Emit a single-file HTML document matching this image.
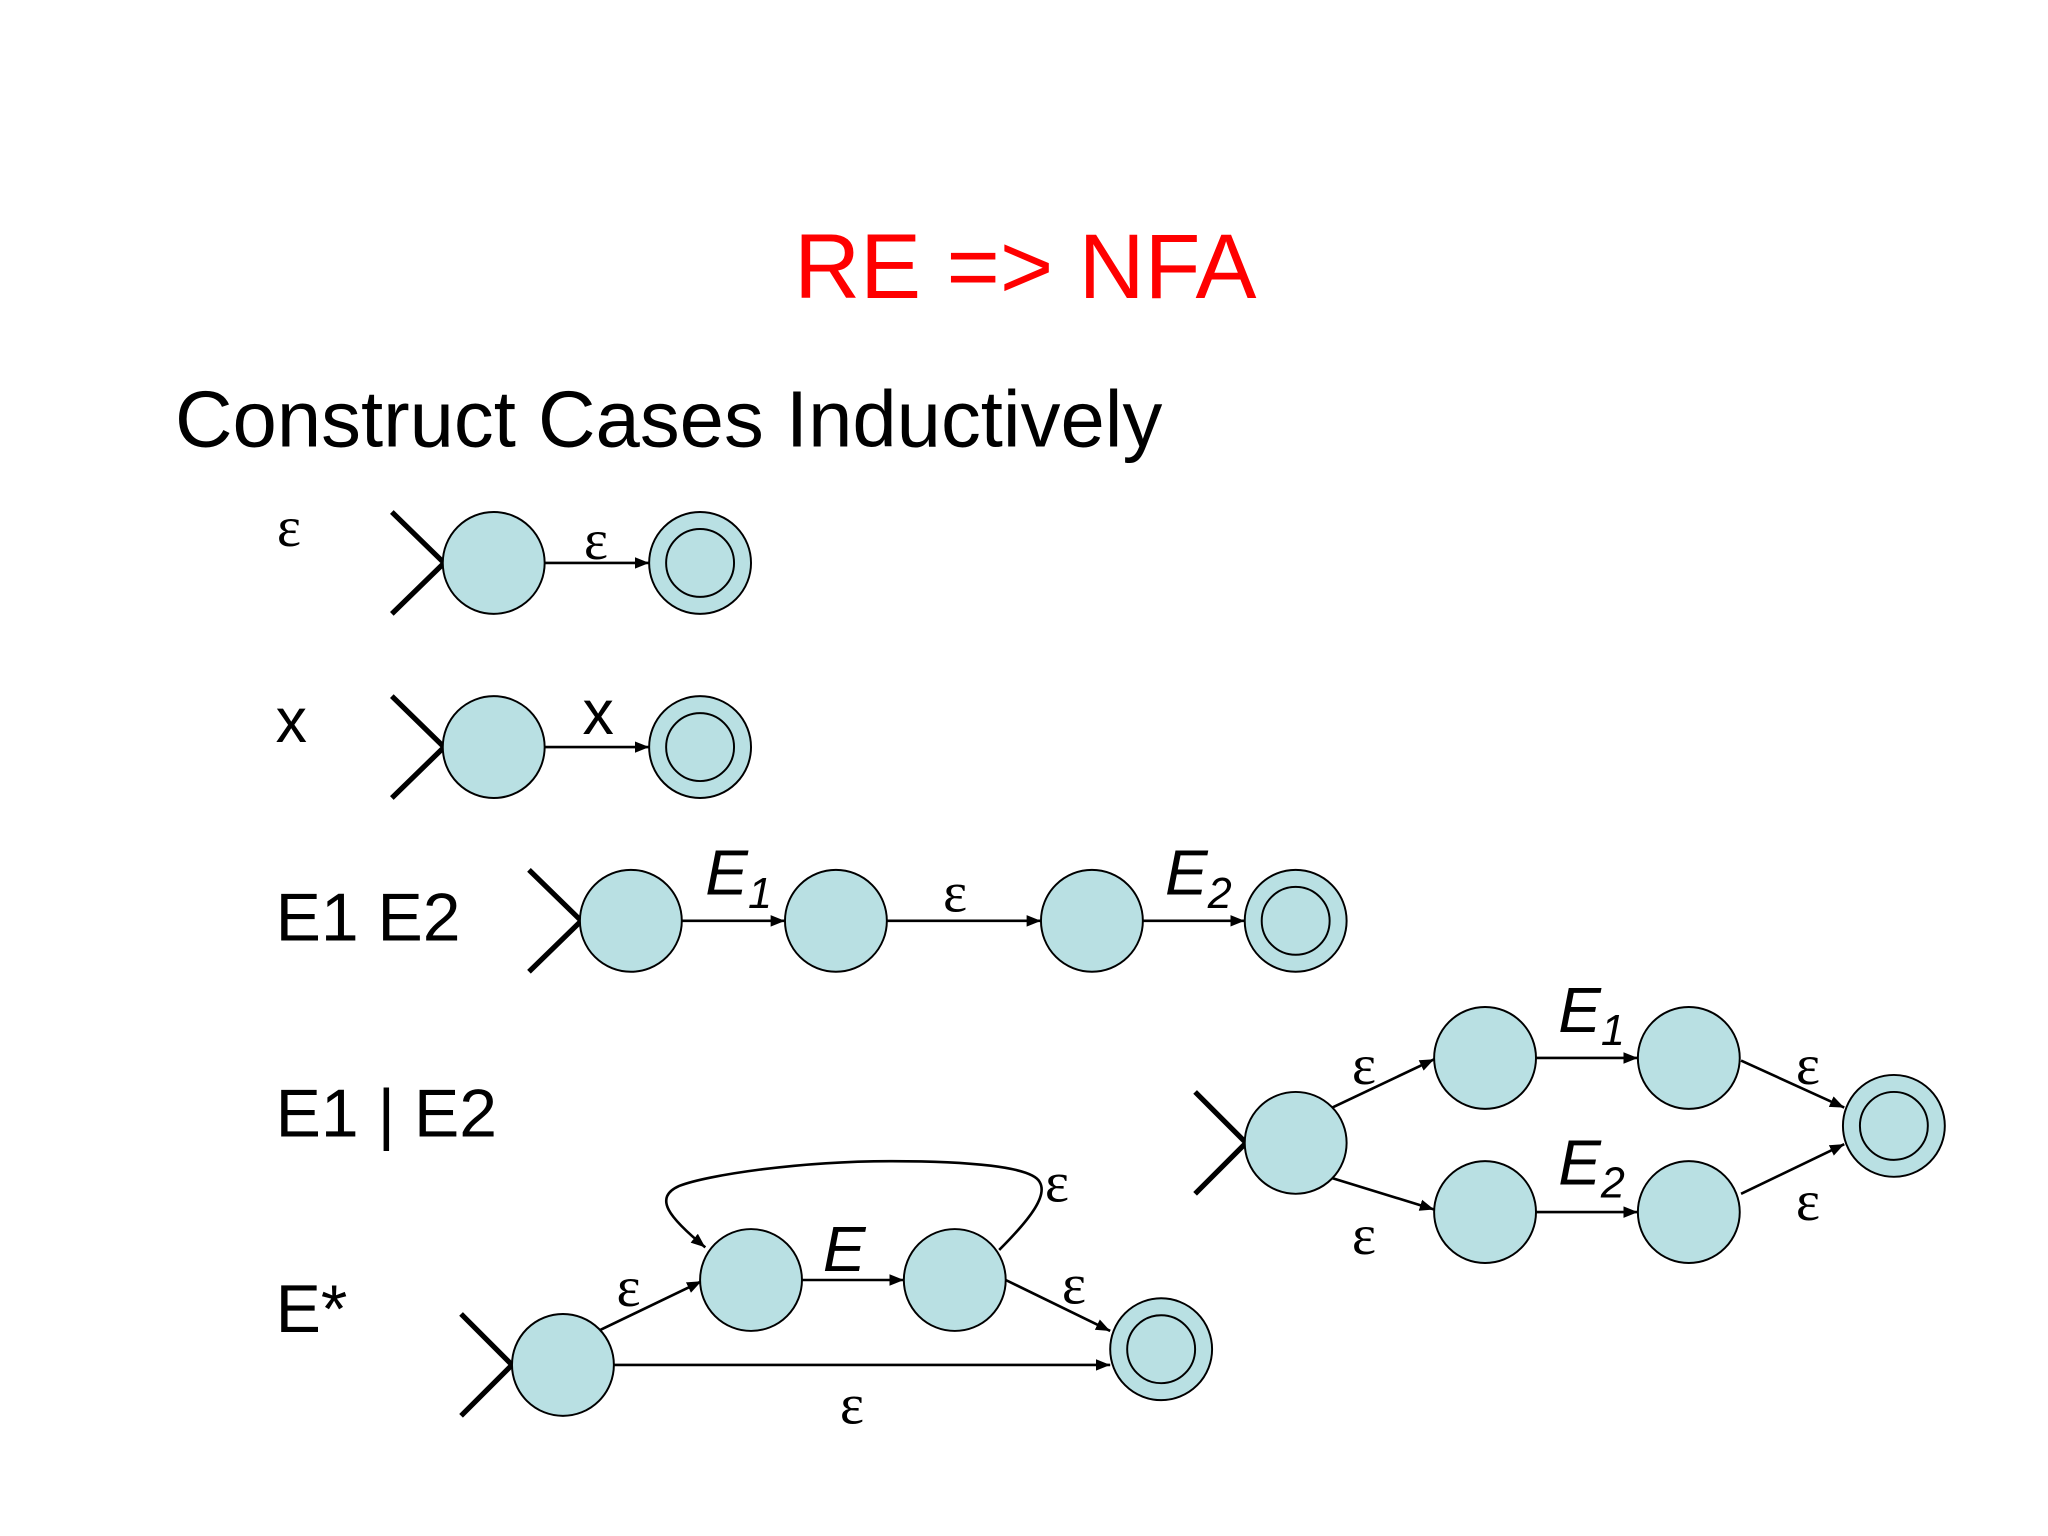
<!DOCTYPE html>
<html><head><meta charset="utf-8"><style>
html,body{margin:0;padding:0;background:#fff;}
svg{display:block;}
text{font-family:"Liberation Sans",sans-serif;}
.s{font-family:"Liberation Serif",serif;}
</style></head><body>
<svg width="2048" height="1536" viewBox="0 0 1568 1176" xmlns="http://www.w3.org/2000/svg">
<defs>
<marker id="a" viewBox="0 0 10 10" refX="10" refY="5" markerWidth="11" markerHeight="11" markerUnits="userSpaceOnUse" orient="auto"><path d="M0,1 L10,5 L0,9 z" fill="#000"/></marker>
</defs>
<rect width="1568" height="1176" fill="#fff"/>
<text x="785" y="228" font-size="70" fill="#ff0000" text-anchor="middle">RE =&gt; NFA</text>
<text x="134" y="342" font-size="61" fill="#000">Construct Cases Inductively</text>
<text x="212" y="418" font-size="44" class="s">ε</text>
<text x="211" y="568" font-size="48">x</text>
<text x="211" y="720" font-size="52">E1 E2</text>
<text x="211" y="870" font-size="52">E1 | E2</text>
<text x="211" y="1020" font-size="52">E*</text>
<g stroke="#000" stroke-width="2" fill="none">
<path d="M300,392 L340,431 L300,470" stroke-width="4"/>
<line x1="417" y1="431" x2="497" y2="431" marker-end="url(#a)"/>
<path d="M300,533 L340,572 L300,611" stroke-width="4"/>
<line x1="417" y1="572" x2="497" y2="572" marker-end="url(#a)"/>
<path d="M405,666 L445,705 L405,744" stroke-width="4"/>
<line x1="522" y1="705" x2="601" y2="705" marker-end="url(#a)"/>
<line x1="679" y1="705" x2="797" y2="705" marker-end="url(#a)"/>
<line x1="875" y1="705" x2="953" y2="705" marker-end="url(#a)"/>
<path d="M915,836 L954,875 L915,914" stroke-width="4"/>
<line x1="1020" y1="848" x2="1098" y2="811" marker-end="url(#a)"/>
<line x1="1020" y1="902" x2="1098" y2="926" marker-end="url(#a)"/>
<line x1="1176" y1="810" x2="1254" y2="810" marker-end="url(#a)"/>
<line x1="1176" y1="928" x2="1254" y2="928" marker-end="url(#a)"/>
<line x1="1333" y1="812" x2="1412" y2="848" marker-end="url(#a)"/>
<line x1="1333" y1="914" x2="1412" y2="876" marker-end="url(#a)"/>
<path d="M353,1006 L392,1045 L353,1084" stroke-width="4"/>
<line x1="458" y1="1019" x2="537" y2="981" marker-end="url(#a)"/>
<line x1="614" y1="980" x2="692" y2="980" marker-end="url(#a)"/>
<line x1="770" y1="980" x2="850" y2="1019" marker-end="url(#a)"/>
<line x1="470" y1="1045" x2="850" y2="1045" marker-end="url(#a)"/>
<path d="M765,957 C 790,932 802,915 796,905 C 790,893 740,889 683,889 C 610,889 540,900 520,908 C 500,917 512,932 540,955" marker-end="url(#a)"/>
</g>
<g fill="#b9e0e3" stroke="#000" stroke-width="1.5">
<circle cx="378" cy="431" r="39"/><circle cx="536" cy="431" r="39"/><circle cx="536" cy="431" r="26"/>
<circle cx="378" cy="572" r="39"/><circle cx="536" cy="572" r="39"/><circle cx="536" cy="572" r="26"/>
<circle cx="483" cy="705" r="39"/><circle cx="640" cy="705" r="39"/><circle cx="836" cy="705" r="39"/>
<circle cx="992" cy="705" r="39"/><circle cx="992" cy="705" r="26"/>
<circle cx="992" cy="875" r="39"/><circle cx="1137" cy="810" r="39"/><circle cx="1293" cy="810" r="39"/>
<circle cx="1137" cy="928" r="39"/><circle cx="1293" cy="928" r="39"/>
<circle cx="1450" cy="862" r="39"/><circle cx="1450" cy="862" r="26"/>
<circle cx="431" cy="1045" r="39"/><circle cx="575" cy="980" r="39"/><circle cx="731" cy="980" r="39"/>
<circle cx="889" cy="1033" r="39"/><circle cx="889" cy="1033" r="26"/>
</g>
<g font-size="44">
<text x="447" y="428" class="s">ε</text>
<text x="722" y="698" class="s">ε</text>
<text x="1035" y="830" class="s">ε</text>
<text x="1035" y="960" class="s">ε</text>
<text x="1375" y="830" class="s">ε</text>
<text x="1375" y="934" class="s">ε</text>
<text x="472" y="1000" class="s">ε</text>
<text x="813" y="998" class="s">ε</text>
<text x="800" y="920" class="s">ε</text>
<text x="643" y="1090" class="s">ε</text>
</g>
<text x="446" y="562" font-size="48">x</text>
<g font-size="49" font-style="italic">
<text x="540" y="685">E<tspan font-size="33" dy="10">1</tspan></text>
<text x="892" y="685">E<tspan font-size="33" dy="10">2</tspan></text>
<text x="1193" y="790">E<tspan font-size="33" dy="10">1</tspan></text>
<text x="1193" y="907">E<tspan font-size="33" dy="10">2</tspan></text>
<text x="630" y="973">E</text>
</g>
</svg>
</body></html>
